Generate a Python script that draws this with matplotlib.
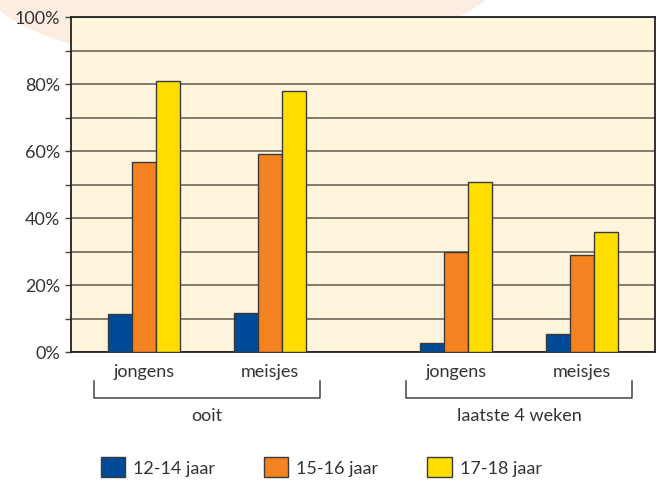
import numpy as np
import matplotlib
matplotlib.use("Agg")
import matplotlib.pyplot as plt
from matplotlib.patches import Ellipse, Patch
import matplotlib.transforms as mtransforms

plt.rcParams['font.family'] = ['Lato', 'DejaVu Sans']

# Data
groups = ["ooit", "laatste 4 weken"]
subgroups = ["jongens", "meisjes", "jongens", "meisjes"]
series_names = ["12-14 jaar", "15-16 jaar", "17-18 jaar"]
v_12_14 = [11.3, 11.6, 2.7, 5.4]
v_15_16 = [56.7, 59.0, 29.9, 29.0]
v_17_18 = [80.9, 77.9, 50.7, 35.8]
yticks = [0, 20, 40, 60, 80, 100]
ytick_labels = ["0%", "20%", "40%", "60%", "80%", "100%"]

colors = ["#004A98", "#F58220", "#FFDD00"]
text_color = "#333333"
fs = 13

fig = plt.figure(figsize=(6.58, 4.85), dpi=100)

# decorative pale ellipse behind
bg = fig.add_axes([0, 0, 1, 1], zorder=-5)
bg.set_xlim(0, 658)
bg.set_ylim(485, 0)
bg.axis("off")
bg.add_patch(Ellipse((245, -45), 550, 220, angle=-2, facecolor="#FCEDE3", edgecolor="none"))

ax = fig.add_axes([71/658, 1-353/485, (655-71)/658, 335/485])
ax.set_facecolor("#FEF5DC")

gap = 1.476
x = np.array([0, 1, gap + 1, gap + 2])
w = 0.19
series = [v_12_14, v_15_16, v_17_18]
for i, (vals, c) in enumerate(zip(series, colors)):
    ax.bar(x + (i - 1) * w, vals, width=w, color=c, edgecolor="#3A3A3A",
           linewidth=1.0, zorder=3)

ax.set_xlim(-0.579, 4.056)
ax.set_ylim(0, 100)
ax.set_yticks(yticks)
ax.set_yticklabels(ytick_labels, fontsize=fs, color=text_color)
ax.set_yticks(np.arange(0, 101, 10), minor=True)
ax.yaxis.grid(True, which="both", color="#6E655A", linewidth=1.2, zorder=1)
ax.tick_params(axis="y", which="both", length=4, width=1, color="#444444", pad=4)
for s in ax.spines.values():
    s.set_color("#222222")
    s.set_linewidth(1.3)

ax.set_xticks(x)
ax.set_xticklabels(subgroups, fontsize=fs, color=text_color)
ax.tick_params(axis="x", length=0, pad=8)

trans = mtransforms.blended_transform_factory(ax.transData, ax.transAxes)
y_top = (353 - 382) / 335
y_bot = (353 - 399) / 335
y_lab = (353 - 416) / 335
for gi, name in enumerate(groups):
    c = (x[2 * gi] + x[2 * gi + 1]) / 2
    half = 0.897
    ax.plot([c - half, c - half, c + half, c + half], [y_top, y_bot, y_bot, y_top],
            color="#444444", linewidth=1.1, transform=trans, clip_on=False)
    ax.text(c, y_lab, name, transform=trans, ha="center", va="center",
            fontsize=fs, color=text_color)

handles = [Patch(facecolor=c, edgecolor="#3A3A3A", linewidth=1.0) for c in colors]
fig.legend(handles, series_names, loc="center", bbox_to_anchor=(0.488, 1 - 468/485),
           ncol=3, frameon=False, fontsize=fs, handlelength=1.35, handleheight=1.3,
           handletextpad=0.45, columnspacing=2.7, labelcolor=text_color)

fig.savefig("out.png", dpi=100)
